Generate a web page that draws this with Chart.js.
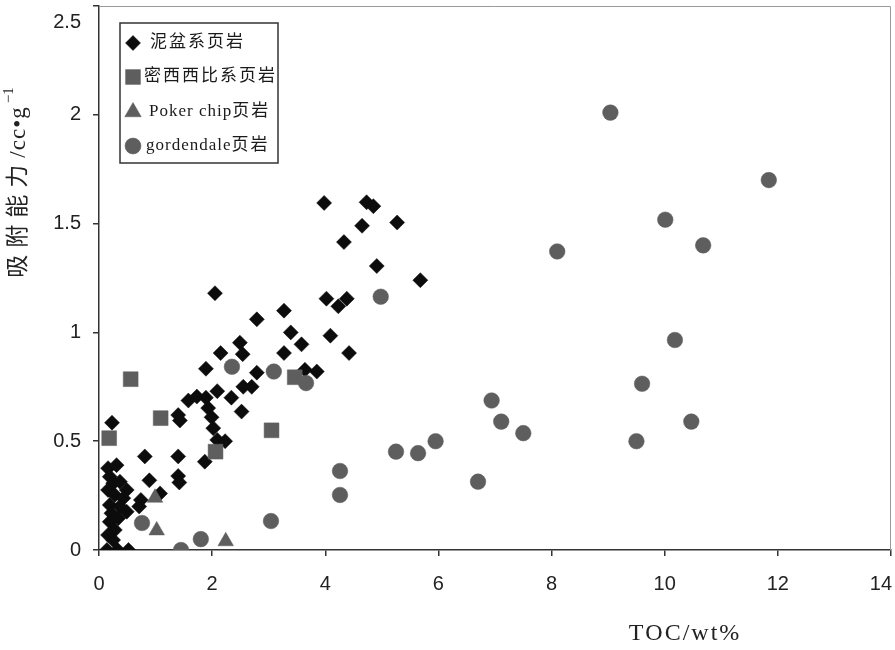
<!DOCTYPE html>
<html>
<head>
<meta charset="utf-8">
<script src="https://cdn.jsdelivr.net/npm/chart.js@4.4.0/dist/chart.umd.min.js"></script>
<style>
  html, body { margin: 0; padding: 0; background: #fff; }
  #wrap { width: 895px; height: 650px; position: relative; }
</style>
</head>
<body>
<div id="wrap"><canvas id="tocChart"></canvas></div>
<script>
// 泥盆系页岩
const devonianX = [3.98, 4.73, 4.85, 5.27, 4.65, 4.33, 4.91, 5.68, 4.02, 4.38, 4.23, 3.27, 2.79, 3.39, 4.09, 3.58, 3.27, 4.42,
  2.79, 3.64, 3.85, 2.05, 2.49, 2.15, 2.54, 1.89, 2.09, 2.34, 2.55, 2.70, 1.58, 1.73, 1.89, 1.93, 1.99, 2.02, 2.52, 1.40, 1.43,
  2.09, 2.23, 1.87, 0.81, 1.40, 0.89, 1.40, 1.42, 1.08, 0.74, 0.71, 0.23,
  0.16, 0.31, 0.19, 0.25, 0.37, 0.49, 0.16, 0.28, 0.43, 0.19, 0.37, 0.49, 0.22, 0.34, 0.19, 0.28, 0.16, 0.25, 0.14, 0.33, 0.52];
const devonianY = [1.595, 1.598, 1.58, 1.505, 1.49, 1.415, 1.305, 1.24, 1.155, 1.155, 1.12, 1.10, 1.06, 1.0, 0.985, 0.945, 0.905, 0.905,
  0.815, 0.828, 0.82, 1.18, 0.953, 0.905, 0.90, 0.833, 0.73, 0.70, 0.75, 0.75, 0.687, 0.705, 0.70, 0.652, 0.61, 0.56, 0.636, 0.62, 0.595,
  0.506, 0.50, 0.406, 0.43, 0.43, 0.32, 0.34, 0.31, 0.26, 0.23, 0.20, 0.585,
  0.376, 0.39, 0.337, 0.307, 0.314, 0.276, 0.276, 0.253, 0.238, 0.207, 0.20, 0.176, 0.169, 0.146, 0.13, 0.092, 0.069, 0.046, 0, 0, 0];

// 密西西比系页岩
const mississippianX = [0.18, 0.56, 1.09, 2.06, 3.05, 3.46];
const mississippianY = [0.514, 0.785, 0.606, 0.452, 0.55, 0.794];

// Poker chip页岩
const pokerX = [0.99, 1.02, 2.24];
const pokerY = [0.24, 0.09, 0.04];

// gordendale页岩
const gordendaleX = [9.04, 11.84, 10.01, 10.68, 8.10, 10.18, 9.60, 10.47, 9.50, 6.94, 7.11, 7.50, 5.95, 5.64, 5.25, 6.70,
  4.98, 4.26, 4.26, 3.04, 3.66, 3.09, 2.35, 0.76, 1.45, 1.80];
const gordendaleY = [2.01, 1.70, 1.518, 1.40, 1.372, 0.965, 0.764, 0.59, 0.50, 0.687, 0.59, 0.537, 0.50, 0.445, 0.452, 0.314,
  1.164, 0.363, 0.253, 0.133, 0.767, 0.82, 0.842, 0.124, 0, 0.05];

const seriesNames = ['泥盆系页岩', '密西西比系页岩', 'Poker chip页岩', 'gordendale页岩'];
const xTicks = [0, 2, 4, 6, 8, 10, 12, 14];
const yTicks = [0, 0.5, 1, 1.5, 2, 2.5];
const xTitle = 'TOC/wt%';
const yTitle = '吸附能力/cc•g';
const yTitleSup = '−1';

const BLACK = '#0c0c0c';
const GREY = '#5e5e5e';
const SERIF = '"Liberation Serif", "Noto Sans CJK SC", serif';
const SANS = '"Liberation Sans", Arial, sans-serif';

const zip = (xs, ys) => xs.map((x, i) => ({ x: x, y: ys[i] }));

// wide gaps after CJK glyphs, tight ones after latin, like the original print
const isCJK = ch => /[\u3400-\u9fff]/.test(ch);
function drawSpaced(ctx, text, x, y, gapCJK, gapLatin) {
  let cx = x;
  for (const ch of text) {
    ctx.fillText(ch, cx, y);
    cx += ctx.measureText(ch).width + (isCJK(ch) ? gapCJK : gapLatin);
  }
  return cx;
}
function spacedWidth(ctx, text, gapCJK, gapLatin) {
  let w = 0;
  for (const ch of text) w += ctx.measureText(ch).width + (isCJK(ch) ? gapCJK : gapLatin);
  return w;
}

const decorPlugin = {
  id: 'decor',
  afterDraw(chart) {
    const ctx = chart.ctx;
    const area = chart.chartArea;
    const xs = chart.scales.x;
    const ys = chart.scales.y;
    ctx.save();

    // light frame on top and right
    ctx.strokeStyle = '#9a9a9a';
    ctx.lineWidth = 1;
    ctx.beginPath();
    ctx.moveTo(area.left, area.top + 0.5);
    ctx.lineTo(area.right - 0.5, area.top + 0.5);
    ctx.lineTo(area.right - 0.5, area.bottom);
    ctx.stroke();

    // tick labels (the edge ones kept inside the canvas like the original)
    ctx.fillStyle = '#222';
    ctx.font = '20px ' + SANS;
    ctx.textAlign = 'right';
    ctx.textBaseline = 'middle';
    yTicks.forEach(v => {
      const py = Math.max(ys.getPixelForValue(v), 22);
      ctx.fillText(String(v), 81, py);
    });
    ctx.textAlign = 'center';
    xTicks.forEach(v => {
      const label = String(v);
      const half = ctx.measureText(label).width / 2;
      const px = Math.min(xs.getPixelForValue(v), chart.width - 3 - half);
      ctx.fillText(label, px, 584);
    });

    // x title
    ctx.font = '24px ' + SERIF;
    ctx.textAlign = 'left';
    ctx.textBaseline = 'middle';
    const xw = spacedWidth(ctx, xTitle, 2, 2) - 2;
    drawSpaced(ctx, xTitle, 684 - xw / 2, 634, 2, 2);

    // y title, rotated
    ctx.save();
    ctx.translate(19, 182);
    ctx.rotate(-Math.PI / 2);
    ctx.font = '23px ' + SERIF;
    const supFont = '15px ' + SERIF;
    const mainW = spacedWidth(ctx, yTitle, 7, 1);
    ctx.font = supFont;
    const supW = ctx.measureText(yTitleSup).width;
    const total = mainW + 4 + supW;
    ctx.font = '23px ' + SERIF;
    const endX = drawSpaced(ctx, yTitle, -total / 2, 0, 7, 1);
    ctx.font = supFont;
    ctx.fillText(yTitleSup, endX + 3, -10);
    ctx.restore();

    // legend box
    const lx = 120, ly = 23, lw = 158, lh = 140;
    ctx.fillStyle = '#fff';
    ctx.fillRect(lx, ly, lw, lh);
    ctx.strokeStyle = '#333';
    ctx.lineWidth = 1.5;
    ctx.strokeRect(lx, ly, lw, lh);

    const rows = [
      { style: 'rectRot', color: BLACK, r: 7.5, y: 43, tx: 150 },
      { style: 'rect', color: GREY, r: 10.5, y: 77, tx: 144 },
      { style: 'triangle', color: GREY, r: 9.5, y: 112, tx: 149 },
      { style: 'circle', color: GREY, r: 8, y: 146, tx: 146 }
    ];
    rows.forEach((row, i) => {
      ctx.fillStyle = row.color;
      ctx.strokeStyle = row.color;
      ctx.lineWidth = 0.5;
      Chart.helpers.drawPoint(ctx, { pointStyle: row.style, radius: row.r, borderWidth: 0.5, rotation: 0 }, 133, row.y);
      ctx.fillStyle = '#1a1a1a';
      ctx.font = '17px ' + SERIF;
      ctx.textAlign = 'left';
      ctx.textBaseline = 'middle';
      drawSpaced(ctx, seriesNames[i], row.tx, row.y, 2, 1);
    });

    ctx.restore();
  }
};

const data = {
  datasets: [
    {
      label: seriesNames[0],
      data: zip(devonianX, devonianY),
      pointStyle: 'rectRot',
      pointRadius: 7.5,
      backgroundColor: BLACK,
      borderColor: BLACK,
      borderWidth: 0.5,
      order: 4
    },
    {
      label: seriesNames[1],
      data: zip(mississippianX, mississippianY),
      pointStyle: 'rect',
      pointRadius: 10.5,
      backgroundColor: GREY,
      borderColor: GREY,
      borderWidth: 0.5,
      order: 3
    },
    {
      label: seriesNames[2],
      data: zip(pokerX, pokerY),
      pointStyle: 'triangle',
      pointRadius: 9,
      backgroundColor: GREY,
      borderColor: GREY,
      borderWidth: 0.5,
      order: 2
    },
    {
      label: seriesNames[3],
      data: zip(gordendaleX, gordendaleY),
      pointStyle: 'circle',
      pointRadius: 7.8,
      backgroundColor: GREY,
      borderColor: GREY,
      borderWidth: 0.5,
      order: 1
    }
  ]
};

const config = {
  type: 'scatter',
  data: data,
  options: {
    responsive: true,
    maintainAspectRatio: false,
    animation: false,
    layout: { autoPadding: false, padding: { top: 6, right: 4, left: 0, bottom: 0 } },
    plugins: {
      legend: { display: false },
      tooltip: { enabled: false }
    },
    scales: {
      x: {
        type: 'linear',
        min: 0,
        max: 14,
        afterBuildTicks: scale => { scale.ticks = xTicks.map(v => ({ value: v })); },
        afterFit: scale => { scale.height = 100; scale.paddingLeft = 0; scale.paddingRight = 0; },
        grid: { display: true, drawOnChartArea: false, drawTicks: true, tickLength: 6, color: '#333', lineWidth: 1.5 },
        border: { display: true, color: '#333', width: 1.5 },
        ticks: { display: false }
      },
      y: {
        type: 'linear',
        min: 0,
        max: 2.5,
        afterBuildTicks: scale => { scale.ticks = yTicks.map(v => ({ value: v })); },
        afterFit: scale => { scale.width = 99; scale.paddingTop = 0; scale.paddingBottom = 0; },
        grid: { display: true, drawOnChartArea: false, drawTicks: true, tickLength: 6, color: '#333', lineWidth: 1.5 },
        border: { display: true, color: '#333', width: 1.5 },
        ticks: { display: false }
      }
    }
  },
  plugins: [decorPlugin]
};

const ctx = document.getElementById('tocChart').getContext('2d');
const tocChart = new Chart(ctx, config);
</script>
</body>
</html>
